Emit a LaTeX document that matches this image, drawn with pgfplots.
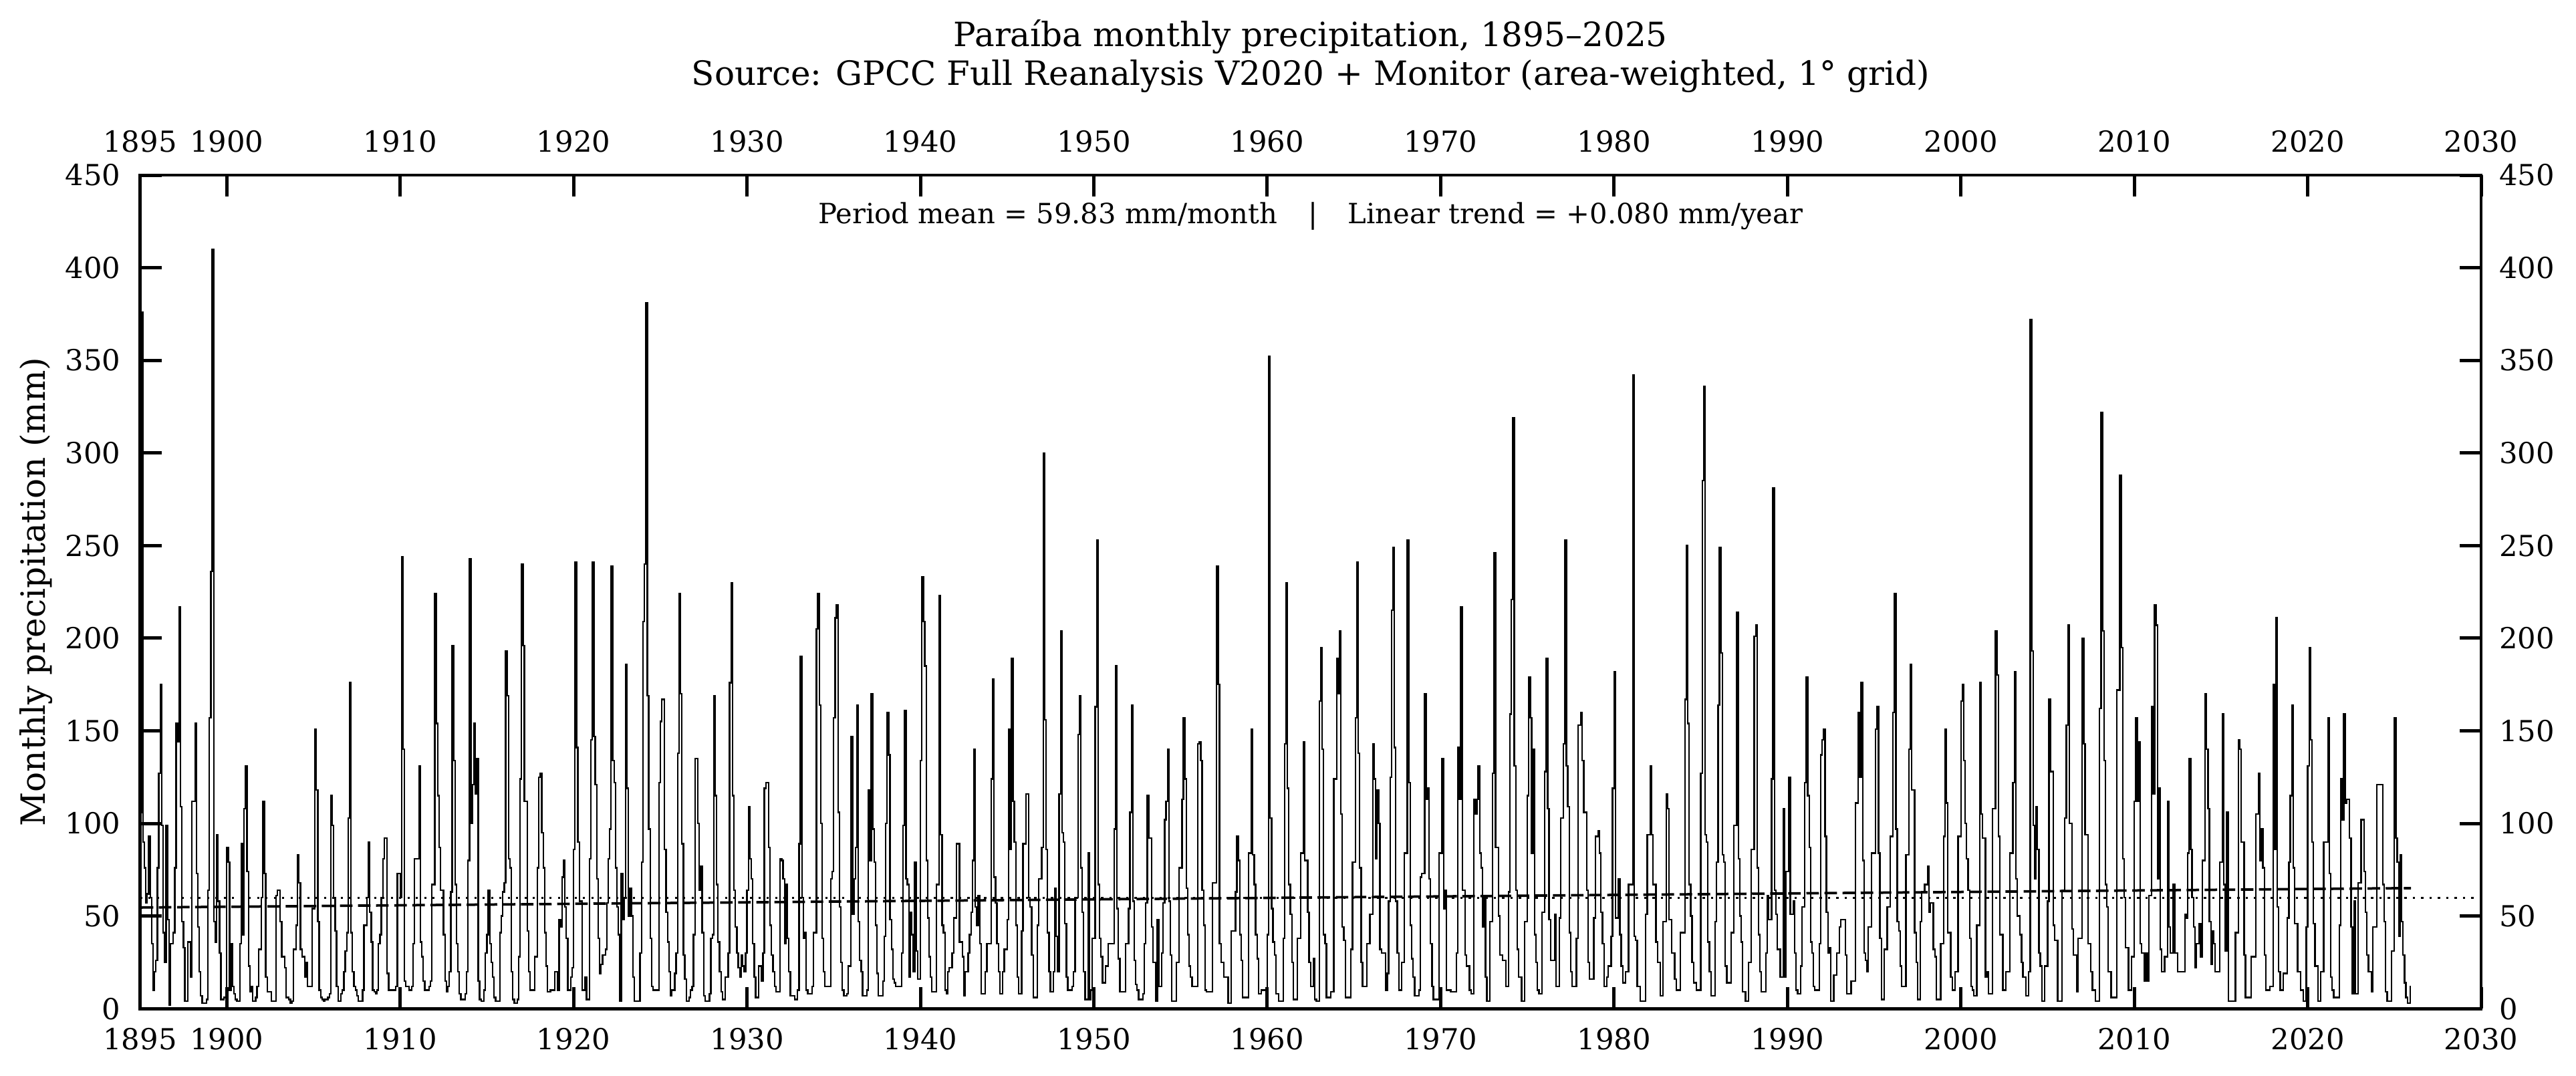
\documentclass[border=0pt]{standalone}
\usepackage{fontspec}
\setmainfont{DejaVu Serif}
\usepackage{pgfplots}
\usepackage{pgfplotstable}
\pgfplotsset{compat=1.18}
\usetikzlibrary{calc}

% Monthly area-weighted precipitation (mm), one line per year, Jan..Dec, 1895-2025
\pgfplotstableread[header=false,row sep=\\]{
106\\376\\90\\76\\57\\62\\93\\60\\35\\10\\20\\26\\
76\\127\\175\\99\\41\\25\\99\\48\\2\\35\\35\\41\\
76\\154\\144\\217\\109\\47\\33\\4\\4\\36\\36\\17\\
112\\112\\154\\73\\44\\20\\7\\3\\3\\3\\5\\64\\
157\\236\\410\\47\\36\\94\\58\\30\\5\\5\\6\\6\\
87\\79\\10\\35\\12\\8\\5\\4\\4\\35\\89\\40\\
108\\131\\74\\23\\9\\12\\4\\4\\6\\12\\32\\32\\
60\\112\\73\\17\\9\\9\\9\\4\\4\\4\\61\\64\\
64\\47\\28\\28\\22\\6\\6\\5\\3\\4\\32\\32\\
45\\83\\68\\32\\28\\28\\17\\25\\12\\12\\12\\54\\
54\\151\\118\\47\\10\\6\\5\\4\\5\\5\\6\\8\\
115\\99\\60\\42\\12\\4\\4\\8\\10\\20\\31\\41\\
103\\176\\41\\20\\12\\10\\7\\4\\4\\4\\10\\45\\
45\\60\\90\\52\\36\\10\\9\\8\\10\\35\\40\\60\\
81\\92\\92\\19\\10\\10\\10\\10\\10\\12\\73\\73\\
60\\244\\140\\15\\12\\12\\10\\10\\12\\35\\81\\81\\
81\\131\\36\\28\\15\\10\\10\\10\\12\\15\\67\\67\\
224\\154\\115\\87\\64\\64\\40\\15\\9\\12\\20\\63\\
196\\134\\67\\35\\20\\8\\5\\5\\5\\8\\20\\80\\
243\\100\\121\\154\\116\\135\\15\\5\\4\\4\\10\\30\\
40\\64\\35\\25\\17\\6\\4\\4\\4\\41\\50\\63\\
68\\193\\169\\81\\76\\20\\5\\3\\3\\5\\28\\124\\
240\\196\\112\\112\\42\\20\\10\\10\\10\\28\\28\\76\\
125\\127\\95\\76\\41\\23\\9\\9\\10\\10\\10\\20\\
20\\10\\48\\44\\71\\80\\55\\38\\10\\10\\17\\22\\
86\\241\\141\\90\\58\\58\\10\\10\\17\\5\\5\\81\\
145\\241\\147\\121\\70\\38\\19\\24\\29\\29\\32\\57\\
81\\97\\239\\134\\122\\76\\55\\40\\4\\73\\48\\60\\
186\\119\\50\\65\\50\\17\\4\\4\\4\\4\\30\\79\\
209\\240\\381\\169\\97\\38\\12\\10\\10\\10\\10\\122\\
155\\167\\167\\86\\52\\36\\20\\7\\10\\10\\19\\30\\
138\\224\\170\\89\\29\\16\\4\\4\\6\\10\\12\\40\\
135\\135\\100\\64\\77\\41\\7\\4\\4\\4\\8\\38\\
40\\169\\115\\67\\36\\20\\9\\5\\5\\17\\17\\30\\
176\\230\\115\\64\\44\\30\\22\\17\\29\\23\\20\\30\\
64\\109\\81\\70\\35\\17\\6\\6\\23\\23\\15\\30\\
119\\122\\122\\87\\45\\29\\20\\12\\9\\9\\9\\81\\
80\\70\\35\\67\\38\\20\\7\\7\\7\\5\\5\\10\\
89\\190\\60\\38\\41\\10\\8\\8\\8\\12\\41\\41\\
205\\224\\164\\100\\38\\20\\12\\12\\12\\12\\70\\74\\
157\\211\\218\\106\\55\\25\\10\\7\\7\\8\\23\\23\\
147\\51\\70\\87\\164\\47\\26\\20\\7\\7\\7\\10\\
118\\80\\170\\97\\79\\45\\19\\7\\7\\7\\15\\39\\
100\\160\\137\\48\\32\\16\\14\\12\\12\\12\\12\\30\\
99\\161\\70\\67\\17\\52\\40\\20\\79\\31\\16\\16\\
134\\233\\209\\185\\80\\49\\28\\17\\9\\9\\9\\67\\
67\\223\\94\\45\\41\\10\\8\\20\\22\\22\\30\\49\\
49\\89\\89\\36\\36\\28\\7\\20\\20\\30\\40\\52\\
80\\140\\55\\45\\61\\35\\8\\8\\8\\20\\35\\35\\
35\\124\\178\\71\\57\\35\\20\\8\\8\\20\\32\\32\\
48\\151\\86\\189\\112\\90\\45\\17\\8\\8\\42\\89\\
89\\116\\116\\60\\55\\29\\6\\6\\6\\45\\70\\70\\
87\\300\\156\\86\\41\\20\\9\\9\\20\\65\\39\\20\\
116\\204\\95\\90\\46\\17\\10\\10\\10\\12\\20\\60\\
60\\148\\169\\76\\52\\20\\5\\5\\84\\5\\10\\38\\
38\\163\\253\\67\\38\\28\\14\\14\\23\\23\\35\\35\\
35\\35\\97\\185\\54\\27\\9\\9\\9\\9\\35\\35\\
54\\106\\164\\58\\26\\13\\10\\5\\5\\5\\8\\35\\
57\\115\\92\\92\\44\\25\\25\\4\\48\\12\\12\\30\\
57\\102\\112\\140\\58\\29\\4\\4\\4\\25\\25\\76\\
76\\113\\157\\124\\65\\40\\23\\17\\12\\12\\12\\12\\
143\\144\\134\\64\\45\\10\\9\\9\\9\\9\\68\\68\\
68\\239\\175\\35\\25\\25\\17\\17\\17\\3\\3\\42\\
42\\42\\63\\93\\80\\40\\26\\6\\6\\6\\6\\84\\
84\\151\\83\\67\\40\\27\\8\\8\\10\\10\\10\\10\\
40\\352\\103\\54\\36\\29\\8\\8\\4\\4\\4\\38\\
143\\230\\119\\67\\51\\25\\5\\5\\5\\38\\38\\84\\
84\\144\\80\\80\\52\\25\\12\\12\\27\\5\\4\\4\\
166\\195\\140\\40\\35\\6\\6\\6\\9\\9\\124\\124\\
189\\170\\204\\105\\44\\37\\6\\6\\6\\6\\32\\79\\
79\\157\\241\\138\\76\\25\\12\\12\\12\\35\\35\\51\\
51\\143\\124\\81\\118\\100\\32\\30\\30\\30\\10\\19\\
58\\125\\215\\249\\141\\58\\30\\10\\10\\25\\25\\84\\
84\\253\\122\\45\\27\\17\\7\\7\\7\\10\\71\\73\\
73\\170\\113\\119\\70\\35\\12\\5\\5\\5\\5\\84\\
84\\135\\54\\64\\10\\10\\10\\9\\9\\9\\9\\30\\
141\\113\\217\\64\\64\\29\\23\\23\\10\\8\\8\\113\\
105\\113\\131\\84\\76\\44\\60\\17\\4\\4\\47\\47\\
127\\246\\87\\87\\50\\29\\29\\26\\26\\12\\12\\63\\
159\\221\\319\\131\\64\\32\\17\\17\\4\\4\\47\\47\\
115\\179\\157\\84\\140\\40\\25\\10\\8\\8\\52\\52\\
128\\189\\108\\48\\26\\26\\26\\51\\12\\12\\49\\103\\
103\\143\\253\\131\\109\\41\\20\\12\\12\\12\\38\\153\\
153\\160\\134\\106\\106\\64\\25\\16\\16\\16\\49\\93\\
93\\96\\84\\52\\35\\12\\12\\17\\23\\23\\39\\119\\
182\\49\\49\\70\\40\\23\\14\\14\\20\\20\\67\\67\\
67\\342\\39\\37\\12\\12\\4\\4\\4\\4\\51\\94\\
94\\131\\94\\67\\67\\36\\25\\25\\7\\7\\47\\47\\
116\\108\\48\\48\\30\\30\\16\\10\\10\\10\\41\\41\\
41\\167\\250\\154\\67\\50\\25\\14\\14\\10\\10\\10\\
127\\285\\336\\94\\90\\36\\20\\7\\7\\7\\47\\79\\
164\\249\\192\\83\\79\\23\\14\\14\\14\\41\\41\\99\\
99\\214\\81\\50\\36\\9\\9\\4\\4\\25\\25\\86\\
86\\201\\207\\76\\40\\20\\9\\9\\9\\30\\61\\48\\
48\\124\\281\\64\\51\\32\\32\\17\\17\\108\\17\\74\\
74\\125\\51\\51\\58\\30\\10\\8\\8\\23\\55\\55\\
122\\179\\115\\87\\36\\30\\12\\10\\10\\10\\35\\137\\
145\\151\\93\\52\\30\\33\\4\\4\\18\\18\\30\\30\\
44\\48\\48\\48\\29\\8\\8\\8\\15\\15\\15\\111\\
111\\160\\125\\176\\80\\30\\26\\20\\44\\44\\84\\84\\
84\\151\\163\\84\\38\\5\\5\\32\\32\\55\\55\\93\\
93\\160\\224\\97\\47\\42\\23\\12\\12\\12\\83\\83\\
140\\186\\118\\118\\41\\25\\5\\5\\47\\63\\63\\67\\
67\\77\\52\\57\\57\\32\\28\\5\\5\\5\\35\\35\\
93\\151\\111\\41\\41\\17\\10\\10\\20\\20\\93\\93\\
166\\175\\134\\100\\81\\64\\38\\12\\10\\7\\7\\45\\
45\\176\\105\\92\\92\\17\\20\\8\\8\\8\\108\\108\\
204\\180\\93\\40\\40\\10\\10\\20\\20\\20\\84\\84\\
122\\182\\70\\50\\50\\40\\25\\17\\17\\7\\7\\20\\
372\\193\\99\\70\\109\\86\\30\\23\\4\\4\\23\\23\\
58\\167\\128\\128\\45\\37\\37\\4\\4\\4\\64\\64\\
103\\153\\207\\100\\100\\43\\29\\29\\9\\38\\38\\38\\
200\\143\\94\\94\\35\\35\\20\\10\\10\\4\\4\\4\\
162\\322\\204\\134\\67\\55\\20\\20\\6\\6\\6\\6\\
172\\172\\288\\195\\81\\60\\33\\33\\10\\10\\28\\28\\
112\\157\\112\\144\\35\\30\\30\\15\\30\\15\\61\\61\\
163\\116\\218\\207\\70\\119\\32\\20\\20\\28\\28\\112\\
44\\30\\30\\67\\30\\30\\20\\20\\20\\20\\20\\51\\
49\\84\\135\\86\\60\\44\\22\\35\\35\\46\\28\\80\\
80\\170\\140\\108\\47\\24\\42\\35\\20\\20\\20\\79\\
79\\159\\67\\31\\106\\4\\4\\4\\4\\4\\41\\41\\
145\\140\\90\\90\\29\\6\\6\\6\\6\\28\\28\\28\\
105\\105\\127\\80\\97\\76\\29\\10\\10\\10\\12\\12\\
175\\86\\211\\55\\20\\10\\10\\19\\19\\19\\49\\79\\
115\\164\\76\\46\\46\\20\\20\\10\\10\\4\\4\\44\\
131\\195\\145\\90\\46\\23\\23\\4\\4\\20\\20\\90\\
90\\90\\157\\73\\17\\10\\6\\6\\6\\6\\45\\124\\
102\\159\\111\\113\\113\\92\\44\\8\\58\\8\\8\\68\\
68\\102\\102\\74\\52\\29\\20\\20\\9\\44\\44\\44\\
121\\121\\121\\121\\67\\47\\9\\4\\4\\4\\31\\31\\
157\\92\\79\\39\\83\\47\\29\\14\\6\\3\\3\\12\\
}\precip

\pgfplotsset{
  frameaxis/.style={
    scale only axis, width=840.5pt, height=299.3pt,
    xmin=1895, xmax=2030, ymin=0, ymax=450,
    xtick={1895,1900,1910,1920,1930,1940,1950,1960,1970,1980,1990,2000,2010,2020,2030},
    ytick={0,50,100,150,200,250,300,350,400,450},
    /pgf/number format/1000 sep={},
    /pgf/number format/assume math mode=true,
    tick label style={font=\fontsize{10.4}{12}\selectfont, inner sep=0pt},
  },
}

\begin{document}
\begin{tikzpicture}
% frame, ticks, bottom/left labels and the data
\begin{axis}[
  frameaxis, name=main,
  tick align=inside, xtick pos=both, ytick pos=both,
  xticklabel pos=left, yticklabel pos=left,
  major tick length=7.7pt,
  every tick/.style={black, line width=1.2pt},
  axis line style={line width=1.1pt},
  xticklabel style={yshift=-6.7pt},
  yticklabel style={xshift=-6.8pt},
  clip=true,
]
\addplot[black, line width=0.55pt, const plot mark mid]
  table[x expr={1895+(\coordindex+0.5)/12}, y index=0] {\precip};
% period mean
\addplot[black, line width=0.8pt, dash pattern=on 0.8pt off 2.2pt]
  coordinates {(1895,59.83) (2030,59.83)};
% least-squares trend, +0.080 mm/year
\addplot[black, line width=0.9pt, dash pattern=on 4.5pt off 2pt]
  coordinates {(1895.042,54.6) (2025.958,65.07)};
\end{axis}
% mirrored labels on top and right
\begin{axis}[
  frameaxis, at={(main.south west)}, anchor=south west,
  axis x line*=top, axis y line*=right,
  axis line style={draw=none}, major tick length=0pt,
  xticklabel style={yshift=8pt},
  yticklabel style={xshift=6.3pt},
]
\addplot[draw=none] coordinates {(1900,0)};
\end{axis}

\node[anchor=base, font=\fontsize{12}{14}\selectfont] at ($(main.north)+(0,46.1pt)$)
  {Paraíba monthly precipitation, 1895–2025};
\node[anchor=base, font=\fontsize{12}{14}\selectfont] at ($(main.north)+(0,32.2pt)$)
  {Source: GPCC Full Reanalysis V2020 + Monitor (area-weighted, 1° grid)};
\node[anchor=base, font=\fontsize{10}{12}\selectfont] at ($(main.north)+(0,-17.5pt)$)
  {Period mean = 59.83 mm/month\hspace{11pt}|\hspace{11pt}Linear trend = +0.080 mm/year};
\node[rotate=90, font=\fontsize{12}{14}\selectfont] at ($(main.west)+(-37.3pt,0)$)
  {Monthly precipitation (mm)};

\pgfresetboundingbox
\path[use as bounding box] ($(main.south west)+(-50.28pt,-24pt)$) rectangle ($(main.north east)+(34.08pt,62.88pt)$);
\end{tikzpicture}
\end{document}
